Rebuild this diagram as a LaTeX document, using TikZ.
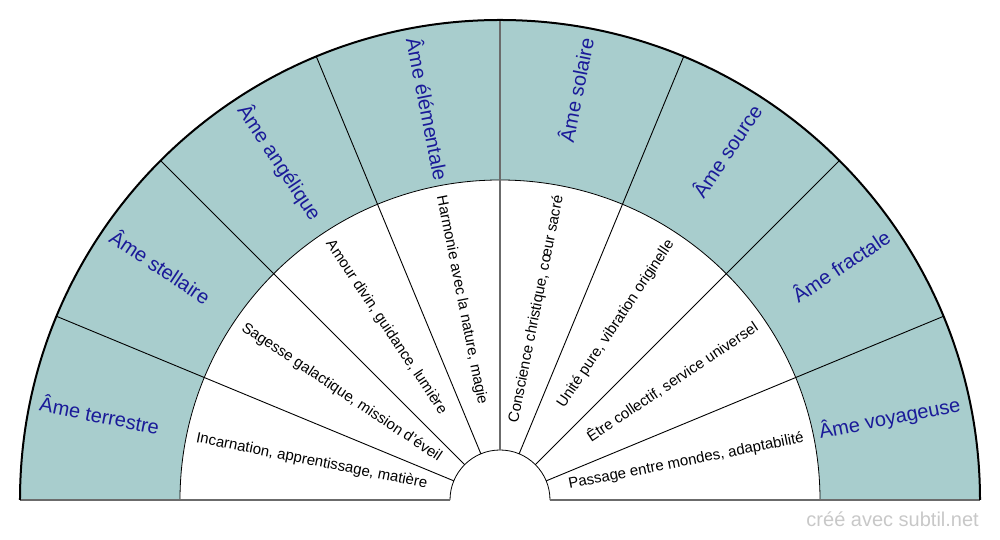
\documentclass[tikz,border=0pt]{standalone}
\usepackage{fontspec}
\setmainfont{Liberation Sans}
\definecolor{ringfill}{HTML}{A8CDCD}
\definecolor{labblue}{HTML}{1A1A99}
\definecolor{markgray}{HTML}{C8C8C8}
\begin{document}
\begin{tikzpicture}[x=1pt,y=1pt,
  outerlab/.style={font=\fontsize{20}{24}\selectfont, text=labblue, inner sep=0pt},
  innerlab/.style={font=\fontsize{15}{18}\selectfont, text=black, inner sep=0pt},
  divider/.style={line width=0.9pt, draw=black},
  axisline/.style={line width=1.7pt, draw=black!58},
  thinarc/.style={line width=0.8pt, draw=black},
  rimarc/.style={line width=2pt, draw=black}]
\useasboundingbox (-500,-40) rectangle (500,500);
% rings
\fill[ringfill] (-480,0) arc[start angle=180,end angle=0,radius=480] -- cycle;
\fill[white] (-320,0) arc[start angle=180,end angle=0,radius=320] -- cycle;
\draw[thinarc] (-320,0) arc[start angle=180,end angle=0,radius=320];
\draw[thinarc] (-50,0) arc[start angle=180,end angle=0,radius=50];
% dividers
\foreach \a in {22.5,45,67.5,112.5,135,157.5} \draw[divider] (\a:50) -- (\a:480);
\draw[axisline] (90:50) -- (90:480);
\draw[axisline] (-480,0) -- (-50,0);
\draw[axisline] (50,0) -- (480,0);
\draw[rimarc] (-480,0) arc[start angle=180,end angle=0,radius=480];
% outer labels
\node[outerlab, anchor=mid west, rotate=-11.25] (o1) at (168.75:470) {Âme terrestre};
\node[outerlab, anchor=mid west, rotate=-33.75] (o2) at (146.25:470) {Âme stellaire};
\node[outerlab, anchor=mid west, rotate=-56.25] (o3) at (123.75:470) {Âme angélique};
\node[outerlab, anchor=mid west, rotate=-78.75] (o4) at (101.25:470) {Âme élémentale};
\node[outerlab, anchor=mid east, rotate=78.75] (o5) at (78.75:470) {Âme solaire};
\node[outerlab, anchor=mid east, rotate=56.25] (o6) at (56.25:470) {Âme source};
\node[outerlab, anchor=mid east, rotate=33.75] (o7) at (33.75:470) {Âme fractale};
\node[outerlab, anchor=mid east, rotate=11.25] (o8) at (11.25:470) {Âme voyageuse};
% inner labels
\node[innerlab, anchor=mid west, rotate=-11.25] (i1) at (168.75:310) {Incarnation, apprentissage, matière};
\node[innerlab, anchor=mid west, rotate=-33.75] (i2) at (146.25:310) {Sagesse galactique, mission d'éveil};
\node[innerlab, anchor=mid west, rotate=-56.25] (i3) at (123.75:310) {Amour divin, guidance, lumière};
\node[innerlab, anchor=mid west, rotate=-78.75] (i4) at (101.25:310) {Harmonie avec la nature, magie};
\node[innerlab, anchor=mid east, rotate=78.75] (i5) at (78.75:310) {Conscience christique, cœur sacré};
\node[innerlab, anchor=mid east, rotate=56.25] (i6) at (56.25:310) {Unité pure, vibration originelle};
\node[innerlab, anchor=mid east, rotate=33.75] (i7) at (33.75:310) {Être collectif, service universel};
\node[innerlab, anchor=mid east, rotate=11.25] (i8) at (11.25:310) {Passage entre mondes, adaptabilité};
% watermark
\node[font=\fontsize{20}{24}\selectfont, text=markgray, inner sep=0pt, anchor=base east] (wm) at (479,-27) {créé avec subtil.net};
\end{tikzpicture}
\end{document}
